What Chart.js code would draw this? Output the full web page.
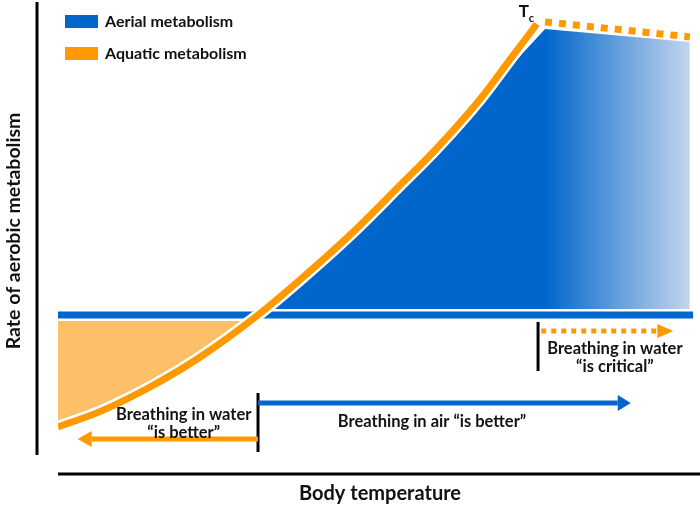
<!DOCTYPE html>
<html lang="en">
<head>
    <meta charset="UTF-8">
    <title>Aerial vs aquatic metabolism</title>
    <script src="https://cdn.jsdelivr.net/npm/chart.js"></script>
    <style>
        body {
            margin: 0;
            padding: 0;
            background: #fff;
        }
        canvas {
            display: block;
        }
    </style>
</head>
<body>
    <canvas id="metaChart" width="700" height="507"></canvas>

    <script>
        // body temperature (arbitrary units) and rate of aerobic metabolism
        const temps       = [0, 6.6, 14.5, 22.4, 31.5, 38.1, 46.0, 53.9, 59.4, 66.5, 71.2, 75.4];
        const aquaticRate = [-37.3, -32.2, -24, -14, 0, 11.7, 26.7, 43.3, 55, 72, 85.2, 97];

        // blue area (aerial metabolism above the aquatic line)
        const aerialTemps = [31.5, 38.1, 46.0, 53.9, 59.4, 66.5, 76.7, 99.5];
        const aerialRate  = [0, 11.7, 26.7, 43.3, 55, 72, 95.3, 91];

        // orange area (aquatic better), from start to crossing
        const waterTemps = [0, 6.6, 14.5, 22.4, 31.5];
        const waterRate  = [-37.3, -32.2, -24, -14, 0];

        // past Tc : dotted line
        const criticalTemps = [76.7, 99.5];
        const criticalRate  = [97.7, 92.7];

        const baseTemps = [0, 100];
        const baseRate  = [0, 0];

        const TC = 73.5;           // where the Tc label sits
        const BLUE = '#0066CC';
        const ORANGE = '#FF9900';
        const FONT = 'Lato, "Open Sans", sans-serif';

        const pts = (xs, ys) => xs.map((x, i) => ({ x: x, y: ys[i] }));

        // gradient for the blue area, fades after Tc
        function aerialFill(context) {
            const chart = context.chart;
            if (!chart.chartArea) return BLUE;
            const xs = chart.scales.x;
            const g = chart.ctx.createLinearGradient(xs.getPixelForValue(76.7), 0, xs.getPixelForValue(99.5), 0);
            g.addColorStop(0, BLUE);
            g.addColorStop(1, '#C4D5EE');
            return g;
        }

        function arrow(ctx, x1, y, x2, color, width, dash, headLen, headHalf) {
            const dir = x2 > x1 ? 1 : -1;
            ctx.save();
            ctx.strokeStyle = color;
            ctx.fillStyle = color;
            ctx.lineWidth = width;
            ctx.setLineDash(dash);
            ctx.beginPath();
            ctx.moveTo(x1, y);
            ctx.lineTo(x2 - dir * headLen, y);
            ctx.stroke();
            ctx.setLineDash([]);
            ctx.beginPath();
            ctx.moveTo(x2, y);
            ctx.lineTo(x2 - dir * headLen, y - headHalf);
            ctx.lineTo(x2 - dir * headLen, y + headHalf);
            ctx.closePath();
            ctx.fill();
            ctx.restore();
        }

        const annotations = {
            id: 'annotations',
            afterDraw(chart) {
                const ctx = chart.ctx;
                const area = chart.chartArea;
                const X = v => chart.scales.x.getPixelForValue(v);
                const Y = v => chart.scales.y.getPixelForValue(v);

                ctx.save();
                // axes (they don't meet)
                ctx.strokeStyle = '#000';
                ctx.lineWidth = 3;
                ctx.beginPath();
                ctx.moveTo(area.left - 21, 2);
                ctx.lineTo(area.left - 21, 455);
                ctx.moveTo(area.left, 474);
                ctx.lineTo(700, 474);
                ctx.stroke();

                // axis titles
                ctx.fillStyle = '#111';
                ctx.textAlign = 'center';
                ctx.textBaseline = 'middle';
                ctx.font = 'bold 20px ' + FONT;
                ctx.fillText('Body temperature', 380, 494);
                ctx.save();
                ctx.translate(14, 231);
                ctx.rotate(-Math.PI / 2);
                ctx.font = 'bold 19.5px ' + FONT;
                ctx.fillText('Rate of aerobic metabolism', 0, 0);
                ctx.restore();

                // legend
                ctx.textAlign = 'left';
                ctx.font = 'bold 16px ' + FONT;
                ctx.fillStyle = BLUE;
                ctx.fillRect(65, 15, 33, 13);
                ctx.fillStyle = ORANGE;
                ctx.fillRect(65, 47, 33, 13);
                ctx.fillStyle = '#111';
                ctx.fillText('Aerial metabolism', 105, 22);
                ctx.fillText('Aquatic metabolism', 105, 54);

                // Tc
                ctx.font = 'bold 17px ' + FONT;
                ctx.fillText('T', X(TC) - 6, Y(101));
                ctx.font = 'bold 11px ' + FONT;
                ctx.fillText('c', X(TC) + 4, Y(99));

                // dividers
                ctx.strokeStyle = '#000';
                ctx.lineWidth = 3;
                ctx.beginPath();
                ctx.moveTo(X(31.5), Y(-26));
                ctx.lineTo(X(31.5), Y(-45.7));
                ctx.moveTo(X(75.6), Y(-2.3));
                ctx.lineTo(X(75.6), Y(-18.7));
                ctx.stroke();

                // arrows
                arrow(ctx, X(31.5), Y(-29.3), X(90.2), BLUE, 5, [], 13, 8);
                arrow(ctx, X(31.5), Y(-41.3), X(3.1), ORANGE, 5, [], 14, 8);
                arrow(ctx, X(76.1), Y(-5.3), X(96.9), ORANGE, 5, [5, 5], 16, 7);

                // captions
                ctx.fillStyle = '#111';
                ctx.textAlign = 'center';
                ctx.font = 'bold 16.5px ' + FONT;
                ctx.fillText('Breathing in water', X(19.8), Y(-33.3));
                ctx.fillText('\u201Cis better\u201D', X(19.8), Y(-39.2));
                ctx.fillText('Breathing in air \u201Cis better\u201D', X(58.9), Y(-35.7));
                ctx.fillText('Breathing in water', X(87.7), Y(-11.3));
                ctx.fillText('\u201Cis critical\u201D', X(87.7), Y(-17.2));
                ctx.restore();
            }
        };

        const ctx = document.getElementById('metaChart').getContext('2d');
        const chart = new Chart(ctx, {
            type: 'line',
            data: {
                datasets: [
                    { // dotted orange past Tc
                        data: pts(criticalTemps, criticalRate),
                        borderColor: ORANGE, borderWidth: 7, borderDash: [7, 7],
                        borderCapStyle: 'butt', fill: false, order: 1
                    },
                    { // aquatic curve
                        data: pts(temps, aquaticRate),
                        borderColor: ORANGE, borderWidth: 7,
                        cubicInterpolationMode: 'monotone', fill: false, order: 2
                    },
                    { // white halo under the curve
                        data: pts(temps, aquaticRate),
                        borderColor: '#fff', borderWidth: 12,
                        cubicInterpolationMode: 'monotone', fill: false, order: 3
                    },
                    { // baseline
                        data: pts(baseTemps, baseRate),
                        borderColor: BLUE, borderWidth: 7, fill: false, order: 4
                    },
                    { // white halo under the baseline
                        data: pts(baseTemps, baseRate),
                        borderColor: '#fff', borderWidth: 12, fill: false, order: 5
                    },
                    { // orange area
                        data: pts(waterTemps, waterRate),
                        borderWidth: 0, backgroundColor: '#FDC068',
                        fill: 'origin', tension: 0, order: 6
                    },
                    { // blue area
                        data: pts(aerialTemps, aerialRate),
                        borderWidth: 0, backgroundColor: aerialFill,
                        fill: 'origin', tension: 0, order: 7
                    }
                ]
            },
            options: {
                responsive: false,
                animation: false,
                events: [],
                layout: { padding: { left: 58, right: 7, top: 9, bottom: 48 } },
                elements: { point: { radius: 0 } },
                plugins: {
                    legend: { display: false },
                    tooltip: { enabled: false }
                },
                scales: {
                    x: { type: 'linear', min: 0, max: 100, display: false },
                    y: { min: -48, max: 102, display: false }
                }
            },
            plugins: [annotations]
        });
    </script>
</body>
</html>
